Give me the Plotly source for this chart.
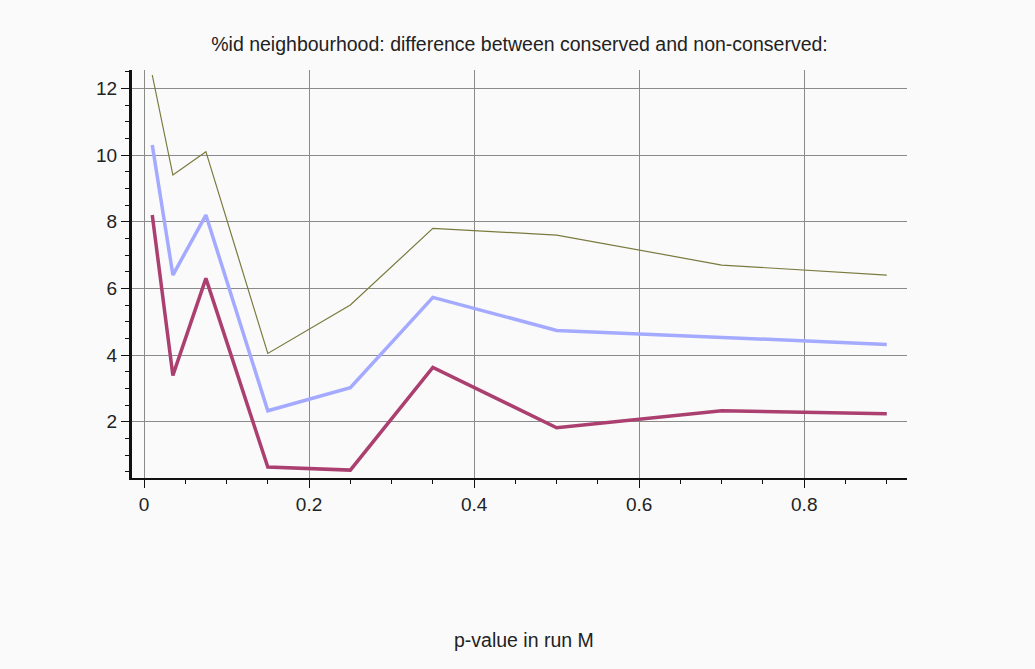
import plotly.graph_objects as go

p_values = [0.01, 0.035, 0.075, 0.15, 0.25, 0.35, 0.5, 0.7, 0.9]
olive_series = [12.4, 9.4, 10.1, 4.05, 5.5, 7.8, 7.6, 6.7, 6.4]
blue_series = [10.3, 6.4, 8.2, 2.33, 3.02, 5.73, 4.74, 4.53, 4.32]
red_series = [8.2, 3.39, 6.3, 0.64, 0.55, 3.63, 1.82, 2.33, 2.24]

title_text = "%id neighbourhood: difference between conserved and non-conserved:"
x_label = "p-value in run M"

FONT = "Liberation Sans, Arial, sans-serif"

fig = go.Figure()
fig.add_trace(go.Scatter(x=p_values, y=olive_series, mode="lines",
                         line=dict(color="#7a7a3e", width=1.2), showlegend=False))
fig.add_trace(go.Scatter(x=p_values, y=blue_series, mode="lines",
                         line=dict(color="#a4aaff", width=3.5), showlegend=False))
fig.add_trace(go.Scatter(x=p_values, y=red_series, mode="lines",
                         line=dict(color="#ab3f6f", width=3.5), showlegend=False))

fig.update_layout(
    width=1035, height=669,
    margin=dict(l=132, r=128, t=70, b=191),
    paper_bgcolor="#fafafa", plot_bgcolor="#fafafa",
    font=dict(family=FONT, size=19, color="#222"),
    title=dict(text=title_text, x=0.5, xref="paper", y=1 - 44 / 669,
               yref="container", yanchor="middle", xanchor="center",
               font=dict(family=FONT, size=19.5, color="#222")),
    showlegend=False,
)
fig.update_xaxes(
    range=[-0.01455, 0.9245], tickvals=[0, 0.2, 0.4, 0.6, 0.8],
    ticktext=["0", "0.2", "0.4", "0.6", "0.8"],
    showgrid=True, gridcolor="#8a8a8a", gridwidth=1, zeroline=False,
    showline=True, linecolor="#111", linewidth=2,
    ticks="outside", ticklen=8, tickcolor="#111", tickwidth=1,
    minor=dict(dtick=0.05, tick0=0, ticks="outside", ticklen=4, tickcolor="#111", showgrid=False),
    tickfont=dict(size=19, color="#222"),
)
fig.update_yaxes(
    range=[0.313, 12.55], tickvals=[2, 4, 6, 8, 10, 12],
    showgrid=True, gridcolor="#8a8a8a", gridwidth=1, zeroline=False,
    showline=True, linecolor="#111", linewidth=3,
    ticks="outside", ticklen=8, tickcolor="#111", tickwidth=1,
    minor=dict(dtick=0.5, tick0=0, ticks="outside", ticklen=4, tickcolor="#111", showgrid=False),
    tickfont=dict(size=19, color="#222"),
)
fig.add_annotation(text=x_label, xref="paper", yref="paper",
                   x=(524 - 132) / 775, y=-(640 - 478) / 408,
                   xanchor="center", yanchor="middle", showarrow=False,
                   font=dict(family=FONT, size=19.5, color="#222"))

fig.write_html("out.html", config={"displayModeBar": False},
               post_script="document.body.style.margin='0';document.body.style.background='#fafafa';")
